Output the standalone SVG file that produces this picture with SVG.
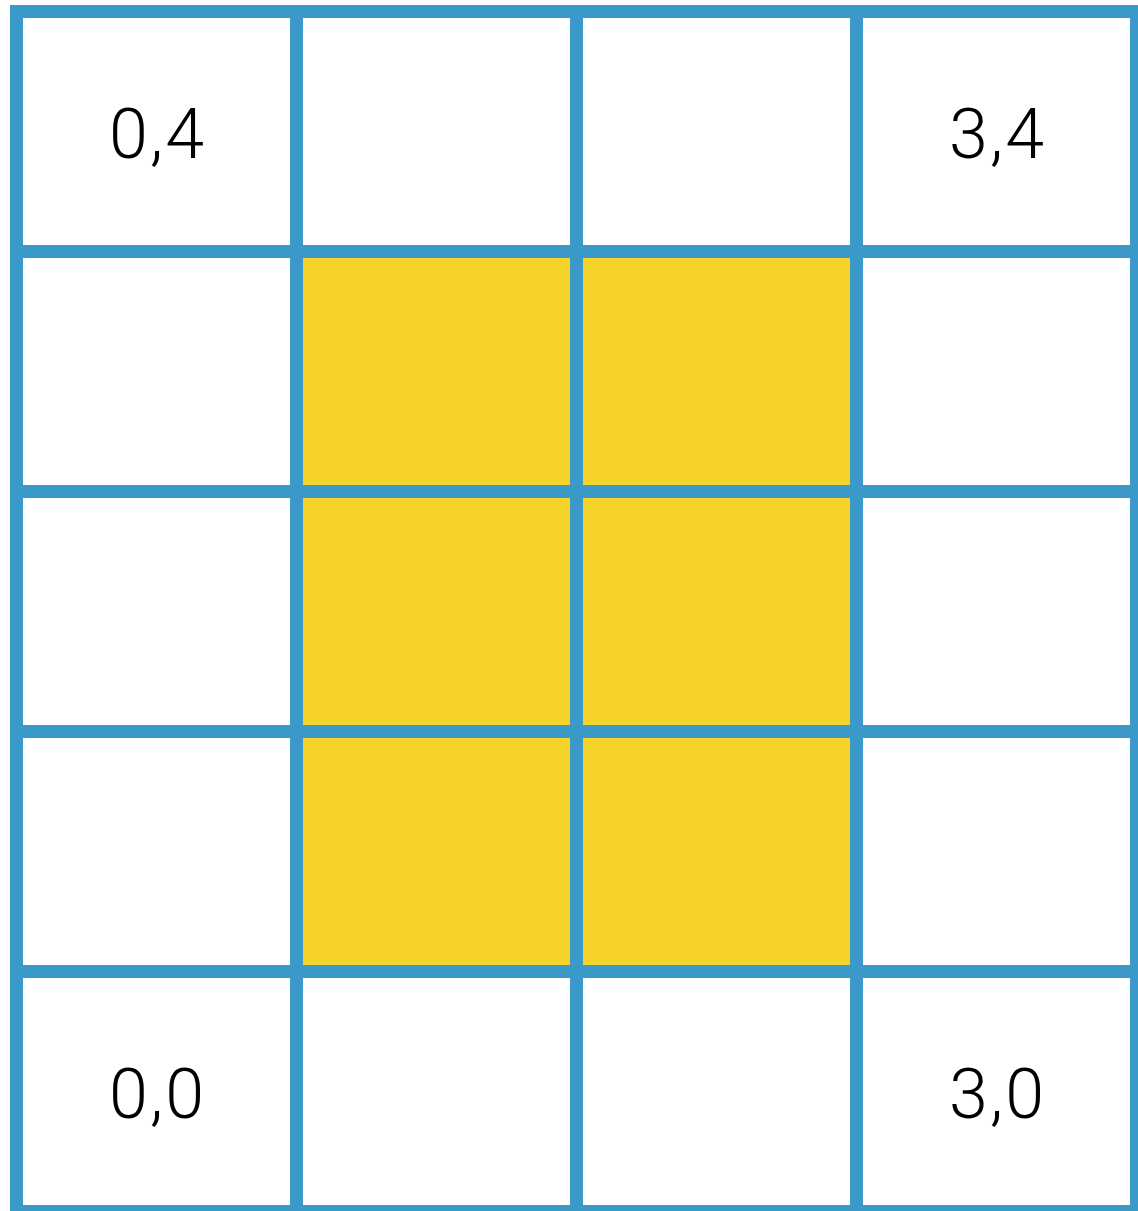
<svg xmlns="http://www.w3.org/2000/svg" width="1138" height="1211" viewBox="0 0 1138 1211">
<style>
.grid line{stroke:#3A99C9;stroke-width:13}
.lbl{font-family:Roboto,"Liberation Sans",sans-serif;font-weight:300;font-size:70px;letter-spacing:2px;fill:#000;text-anchor:middle}
.hi{fill:#F5D329}
</style>
<rect width="1138" height="1211" fill="#fff"/>
<g id="highlight">
<rect class="hi" x="296.5" y="251.5" width="560" height="720"/>
</g>
<g id="grid" class="grid">
<line x1="16.5" y1="5" x2="16.5" y2="1218"/>
<line x1="296.5" y1="5" x2="296.5" y2="1218"/>
<line x1="576.5" y1="5" x2="576.5" y2="1218"/>
<line x1="856.5" y1="5" x2="856.5" y2="1218"/>
<line x1="1136.5" y1="5" x2="1136.5" y2="1218"/>
<line x1="10" y1="11.5" x2="1143" y2="11.5"/>
<line x1="10" y1="251.5" x2="1143" y2="251.5"/>
<line x1="10" y1="491.5" x2="1143" y2="491.5"/>
<line x1="10" y1="731.5" x2="1143" y2="731.5"/>
<line x1="10" y1="971.5" x2="1143" y2="971.5"/>
<line x1="10" y1="1211.5" x2="1143" y2="1211.5"/>
</g>
<g id="cell-0-4"><text class="lbl" x="157.5" y="158">0,4</text></g>
<g id="cell-3-4"><text class="lbl" x="997.5" y="158">3,4</text></g>
<g id="cell-0-0"><text class="lbl" x="157.5" y="1118">0,0</text></g>
<g id="cell-3-0"><text class="lbl" x="997.5" y="1118">3,0</text></g>
</svg>
